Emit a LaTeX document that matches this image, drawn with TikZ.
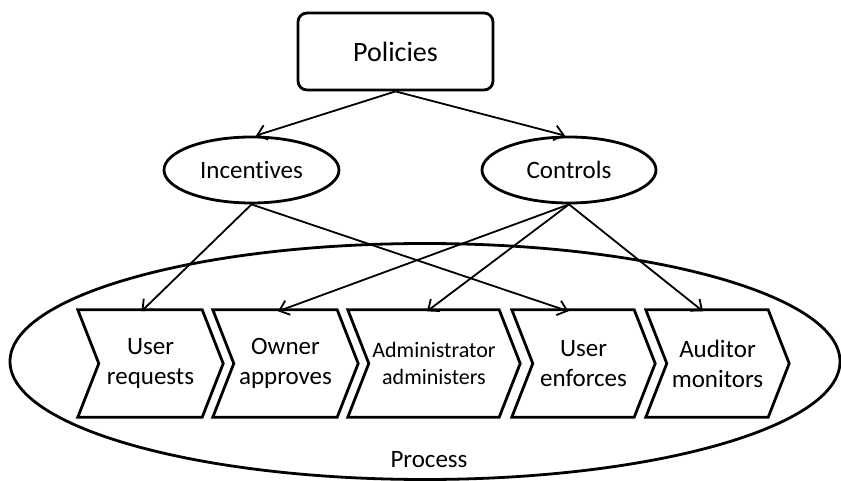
\documentclass[tikz,border=0pt]{standalone}
\usepackage{fontspec}
\setmainfont{Carlito}[Ligatures=NoCommon]
\usetikzlibrary{arrows.meta,shapes.geometric}

\tikzset{
  outline/.style={line width=2.8pt, draw=black},
  flowtext/.style={font=\fontsize{25}{30}\selectfont, align=center, inner sep=0pt},
  chevron/.style={rectangle, minimum height=107pt, inner sep=0pt,
    font=\fontsize{25}{30}\selectfont, align=center},
  link/.style={line width=1.8pt, -{Straight Barb[length=9pt,width=15pt]}},
  oval/.style={ellipse, outline, minimum height=66pt, inner sep=0pt,
    font=\fontsize{25}{30}\selectfont},
}

% outline of a process step: notch on the left, point on the right
\newcommand{\stepoutline}[1]{%
  \draw[outline, line join=miter]
    (#1.north west) -- ([xshift=-21pt]#1.north east) -- (#1.east)
    -- ([xshift=-21pt]#1.south east) -- (#1.south west)
    -- ([xshift=21pt]#1.west) -- cycle;}

\begin{document}
\begin{tikzpicture}[x=1pt, y=-1pt]
  \useasboundingbox (0,0) rectangle (841,481);

  % surrounding process region
  \node[ellipse, outline, minimum width=830pt, minimum height=236pt, inner sep=0pt]
    (proc) at (425,361.5) {};
  \node[flowtext] (proclabel) at (429,460) {Process};

  % top level
  \node[rectangle, rounded corners=9pt, outline, minimum width=195pt,
        minimum height=77pt, inner sep=0pt, font=\fontsize{28}{34}\selectfont]
    (pol) at (395.5,51.5) {Policies};

  \node[oval, minimum width=175pt] (inc) at (251.5,170) {Incentives};
  \node[oval, minimum width=174pt] (ctl) at (569,170) {Controls};

  % process steps
  \node[chevron, minimum width=145pt] (c1) at (150.5,363.5) {User\\requests};
  \node[chevron, minimum width=145pt] (c2) at (285.5,363.5) {Owner\\approves};
  \node[chevron, minimum width=172pt, font=\fontsize{22}{27}\selectfont]
    (c3) at (434,363.5) {Administrator\\administers};
  \node[chevron, minimum width=143pt] (c4) at (583.5,363.5) {User\\enforces};
  \node[chevron, minimum width=143pt] (c5) at (717.5,363.5) {Auditor\\monitors};

  \stepoutline{c1}
  \stepoutline{c2}
  \stepoutline{c3}
  \stepoutline{c4}
  \stepoutline{c5}

  % connectors
  \draw[link] (pol.south) -- ([xshift=4.5pt]inc.north);
  \draw[link] (pol.south) -- ([xshift=-4pt]ctl.north);

  \draw[link] (inc.south) -- ([xshift=-9pt,yshift=-1.5pt]c1.north);
  \draw[link] (inc.south) -- ([xshift=-15pt,yshift=-1.5pt]c4.north);

  \draw[link] (ctl.south) -- ([xshift=-7.5pt,yshift=-1.5pt]c2.north);
  \draw[link] (ctl.south) -- ([xshift=-7pt,yshift=-1.5pt]c3.north);
  \draw[link] (ctl.south) -- ([xshift=-14.5pt,yshift=-1.5pt]c5.north);
\end{tikzpicture}
\end{document}
